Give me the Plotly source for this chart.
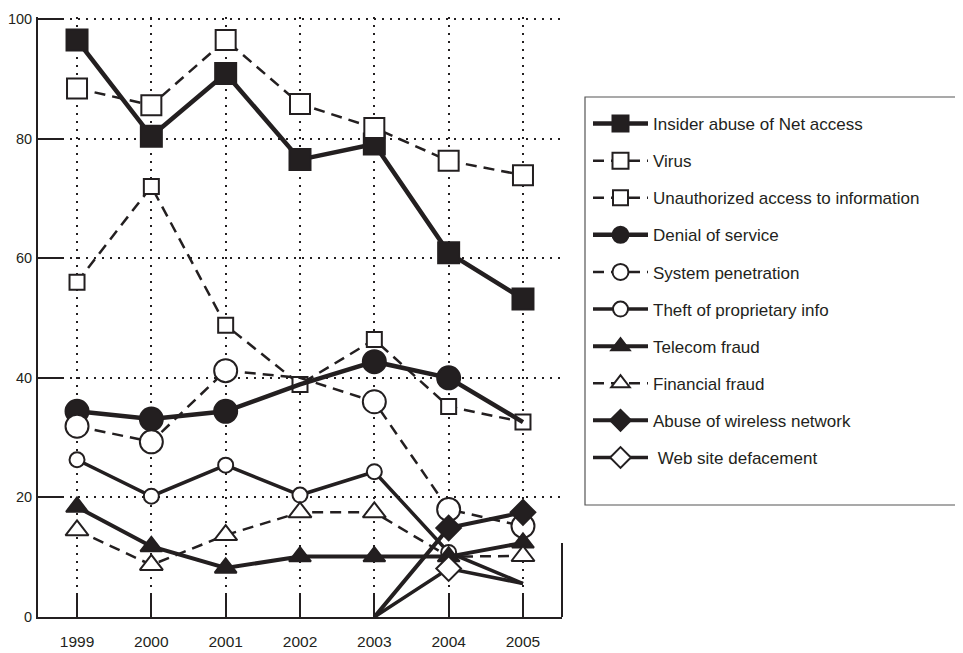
import plotly.graph_objects as go

# ---- data ----
years = [1999, 2000, 2001, 2002, 2003, 2004, 2005]
y_ticks = [0, 20, 40, 60, 80, 100]

names = [
    "Insider abuse of Net access",
    "Virus",
    "Unauthorized access to information",
    "Denial of service",
    "System penetration",
    "Theft of proprietary info",
    "Telecom fraud",
    "Financial fraud",
    "Abuse of wireless network",
    " Web site defacement",
]

insider = [96.5, 80.4, 90.9, 76.5, 79.1, 60.9, 53.2]
virus = [88.4, 85.6, 96.5, 85.8, 81.8, 76.3, 73.9]
unauthorized = [56.0, 72.0, 48.8, 38.9, 46.4, 35.2, 32.6]
denial = [34.4, 33.1, 34.4, 38.9, 42.7, 40.0, 32.6]
system_pen = [31.9, 29.3, 41.2, 40.0, 36.0, 18.0, 15.2]
theft = [26.3, 20.2, 25.4, 20.4, 24.3, 10.8, 5.6]
telecom = [18.4, 11.8, 8.2, 10.1, 10.1, 10.1, 12.4]
financial = [14.5, 8.7, 13.7, 17.5, 17.5, 10.1, 10.2]
wireless = [None, None, None, None, 0, 14.9, 17.5]
defacement = [None, None, None, None, 0, 8.1, 5.6]

values = [insider, virus, unauthorized, denial, system_pen, theft,
          telecom, financial, wireless, defacement]

# which points carry a visible marker in the original
marker_shown = [
    [1, 1, 1, 1, 1, 1, 1],
    [1, 1, 1, 1, 1, 1, 1],
    [1, 1, 1, 1, 1, 1, 1],
    [1, 1, 1, 0, 1, 1, 0],
    [1, 1, 1, 0, 1, 1, 1],
    [1, 1, 1, 1, 1, 1, 0],
    [1, 1, 1, 1, 1, 1, 1],
    [1, 1, 1, 1, 1, 0, 1],
    [0, 0, 0, 0, 0, 1, 1],
    [0, 0, 0, 0, 0, 1, 0],
]

# ---- styles ----
INK = "#231f20"
DASH = "11px,7px"
styles = [
    dict(symbol="square", size=21, fill=INK, dash="solid", lw=4.5),
    dict(symbol="square", size=20, fill="white", dash=DASH, lw=2.5),
    dict(symbol="square", size=15, fill="white", dash=DASH, lw=2.5),
    dict(symbol="circle", size=23, fill=INK, dash="solid", lw=4.5),
    dict(symbol="circle", size=23, fill="white", dash=DASH, lw=2.5),
    dict(symbol="circle", size=15, fill="white", dash="solid", lw=3.5),
    dict(symbol="triangle-up", size=19, fill=INK, dash="solid", lw=4),
    dict(symbol="triangle-up", size=20, fill="white", dash=DASH, lw=2.5),
    dict(symbol="diamond", size=19, fill=INK, dash="solid", lw=4),
    dict(symbol="diamond", size=19, fill="white", dash="solid", lw=3.5),
]

fig = go.Figure()
for i, (name, vals, st, shown) in enumerate(zip(names, values, styles, marker_shown)):
    line = dict(color=INK, width=st["lw"], dash=st["dash"])
    marker = dict(symbol=st["symbol"], size=st["size"], color=st["fill"],
                  opacity=1, line=dict(color=INK, width=2))
    # connecting line
    fig.add_trace(go.Scatter(
        x=years, y=vals, mode="lines", line=line,
        showlegend=False, hoverinfo="skip", connectgaps=False,
    ))
    # markers (only where the original draws them)
    mvals = [v if s else None for v, s in zip(vals, shown)]
    fig.add_trace(go.Scatter(
        x=years, y=mvals, mode="markers", marker=marker,
        name=name, showlegend=False,
    ))
    # legend entry
    fig.add_trace(go.Scatter(
        x=[None], y=[None], mode="lines+markers", name=name,
        line=line, marker=marker, legendgroup=f"g{i}", showlegend=True,
    ))

# The page body adds an 8px offset, so the figure is 8px smaller and all
# screen targets below are converted into figure coordinates.
OFF = 8
SCREEN_W, SCREEN_H = 963, 653
W, H = SCREEN_W - OFF, SCREEN_H - OFF
PLOT_L, PLOT_R, PLOT_T, PLOT_B = 38, 562, 17, 617   # screen coords
ml, mr = PLOT_L - OFF, W - (PLOT_R - OFF)
mt, mb = PLOT_T - OFF, H - (PLOT_B - OFF)
pw, ph = W - ml - mr, H - mt - mb

def px_x(x):
    return (x - PLOT_L) / pw

def px_y(y):
    return (PLOT_B - y) / ph

GRID_DASH = "2px,6px"
fig.update_layout(
    width=W, height=H,
    margin=dict(l=ml, r=mr, t=mt, b=mb),
    paper_bgcolor="white", plot_bgcolor="white",
    font=dict(family="Liberation Sans, Arial, sans-serif", color=INK),
    showlegend=True,
    legend=dict(
        x=px_x(588), y=px_y(106), xanchor="left", yanchor="top",
        font=dict(size=17, color=INK),
        itemwidth=55, tracegroupgap=12,
        bgcolor="rgba(0,0,0,0)", borderwidth=0,
        traceorder="grouped",
    ),
    xaxis=dict(
        range=[1998.475, 2005.525], automargin=False,
        tickmode="array", tickvals=years,
        ticks="inside", ticklen=22, tickwidth=2, tickcolor=INK,
        showline=True, linewidth=2, linecolor=INK,
        showgrid=True, gridcolor=INK, gridwidth=2, griddash=GRID_DASH,
        zeroline=False, tickfont=dict(size=15.5, color=INK),
        ticklabelstandoff=9, ticklabeloverflow="allow",
        fixedrange=True,
    ),
    yaxis=dict(
        range=[0, 100.35], automargin=False,
        tickmode="array", tickvals=y_ticks,
        ticks="inside", ticklen=24, tickwidth=2, tickcolor=INK,
        showline=True, linewidth=2, linecolor=INK,
        showgrid=True, gridcolor=INK, gridwidth=2, griddash=GRID_DASH,
        zeroline=False, tickfont=dict(size=14.5, color=INK),
        ticklabeloverflow="allow", ticklabelstandoff=1,
        fixedrange=True,
    ),
    shapes=[
        dict(type="rect", xref="paper", yref="paper",
             x0=px_x(585), x1=px_x(958), y0=px_y(505), y1=px_y(97),
             line=dict(color="#555555", width=1.2), fillcolor="rgba(0,0,0,0)"),
        dict(type="line", xref="paper", yref="paper",
             x0=1, x1=1, y0=0, y1=px_y(543),
             line=dict(color=INK, width=2)),
    ],
)

fig.write_html("out.html")
